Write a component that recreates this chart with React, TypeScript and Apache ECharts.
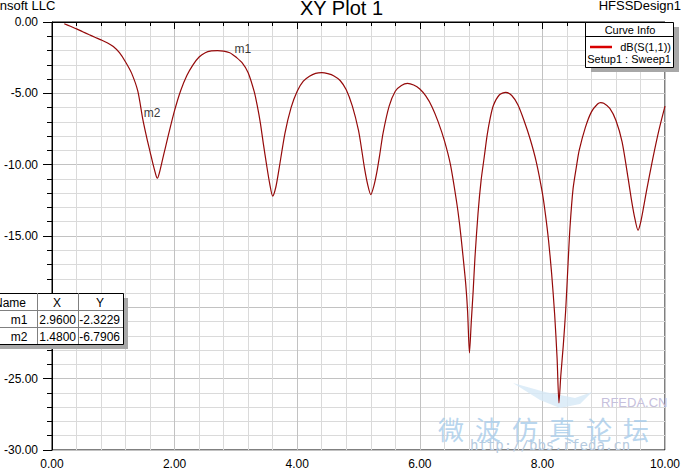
import React, { useEffect, useRef } from "react";
import * as echarts from "echarts";

// ---- Data ----
const freqGHz = [
  0.2, 0.3, 0.4, 0.5, 0.6, 0.7, 0.8, 0.9, 1.0, 1.1, 1.2, 1.3, 1.4, 1.48, 1.55, 1.6, 1.65, 1.7, 1.72, 1.75,
  1.8, 1.85, 1.9, 2.0, 2.1, 2.2, 2.3, 2.4, 2.5, 2.6, 2.7, 2.8, 2.9, 2.96, 3.0, 3.1, 3.2, 3.3, 3.35, 3.4, 3.45,
  3.5, 3.55, 3.6, 3.65, 3.7, 3.8, 3.9, 4.0, 4.1, 4.2, 4.3, 4.4, 4.5, 4.6, 4.7, 4.8, 4.9, 5.0, 5.05, 5.1,
  5.15, 5.2, 5.25, 5.3, 5.35, 5.4, 5.5, 5.6, 5.7, 5.8, 5.9, 6.0, 6.1, 6.2, 6.3, 6.4, 6.5, 6.6, 6.65, 6.7,
  6.75, 6.78, 6.81, 6.84, 6.87, 6.9, 6.95, 7.0, 7.05, 7.1, 7.15, 7.2, 7.3, 7.4, 7.5, 7.6, 7.7, 7.8, 7.9, 8.0,
  8.05, 8.1, 8.15, 8.2, 8.24, 8.27, 8.3, 8.34, 8.38, 8.42, 8.45, 8.5, 8.56, 8.6, 8.7, 8.8, 8.9, 8.95, 9.0, 9.1,
  9.2, 9.3, 9.4, 9.45, 9.5, 9.56, 9.6, 9.65, 9.7, 9.8, 9.9, 10.0,
];
const dbS11 = [
  -0.12, -0.3, -0.48, -0.68, -0.88, -1.07, -1.25, -1.45, -1.72, -2.15, -2.8, -3.6, -4.85, -6.7906, -8.2, -9.1, -10.0, -10.8, -10.95, -10.6,
  -9.7, -8.8, -7.9, -6.2, -4.8, -3.75, -3.0, -2.45, -2.15, -2.03, -2.0, -2.04, -2.16, -2.3229, -2.45, -2.85, -3.55, -4.9, -5.9, -7.1, -8.6,
  -10.0, -11.3, -12.2, -11.6, -10.4, -7.8, -6.0, -4.85, -4.15, -3.8, -3.6, -3.55, -3.62, -3.78, -4.1, -4.75, -5.9, -7.6, -8.9, -10.3,
  -11.4, -12.1, -11.5, -10.5, -9.2, -7.8, -5.9, -4.85, -4.45, -4.3, -4.42, -4.7, -5.2, -5.95, -7.0, -8.3, -10.0, -12.6, -14.2, -16.2,
  -18.4, -20.3, -23.2, -21.0, -18.9, -16.5, -13.4, -11.1, -9.5, -7.9, -6.7, -5.85, -5.1, -4.93, -5.15, -5.8, -6.9, -8.2, -9.8, -12.0,
  -13.5, -15.3, -17.6, -20.5, -23.6, -26.7, -24.8, -22.7, -20.2, -16.8, -14.4, -11.7, -10.0, -9.0, -7.4, -6.3, -5.75, -5.65, -5.7, -6.05,
  -6.9, -8.4, -11.0, -12.4, -13.6, -14.6, -14.1, -13.0, -11.8, -9.6, -7.6, -5.9,
];
const markerNames = ["m1", "m2"];
const markerX = [2.96, 1.48];
const markerY = [-2.3229, -6.7906];
const seriesName = "dB(S(1,1))";
const sweepName = "Setup1 : Sweep1";
const watermarkChars = ["微", "波", "仿", "真", "论", "坛"];

const FONT = "Arial, 'Liberation Sans', sans-serif";

export default function App() {
  const ref = useRef<HTMLDivElement>(null);
  useEffect(() => {
    if (!ref.current) return;
    const chart = echarts.init(ref.current, null, { renderer: "svg" });
    const curve = freqGHz.map((f, i) => [f, dbS11[i]]);
    const markers = markerX.map((x, i) => ({ value: [x, markerY[i]], name: markerNames[i] }));

    // marker table
    const tL = -25, tT = 293, rowH = 17, cols = [37, 78], tR = 123;
    const tB = tT + rowH * 3;
    const tableEls: any[] = [
      { type: "rect", z: 100, shape: { x: tL + 5, y: tT + 5, width: tR - tL, height: tB - tT }, style: { fill: "#a8a8a8" } },
      { type: "rect", z: 101, shape: { x: tL + 0.5, y: tT + 0.5, width: tR - tL, height: tB - tT }, style: { fill: "#fff", stroke: "#000", lineWidth: 1 } },
    ];
    for (let r = 1; r < 3; r++) {
      tableEls.push({ type: "line", z: 102, shape: { x1: tL, y1: tT + rowH * r + 0.5, x2: tR, y2: tT + rowH * r + 0.5 }, style: { stroke: "#808080", lineWidth: 1 } });
    }
    cols.forEach((c) => {
      tableEls.push({ type: "line", z: 102, shape: { x1: c + 0.5, y1: tT, x2: c + 0.5, y2: tB }, style: { stroke: "#808080", lineWidth: 1 } });
    });
    const tText = (text: string, x: number, y: number, align: string) => ({
      type: "text", z: 103, x, y,
      style: { text, fill: "#000", font: `12px ${FONT}`, textAlign: align, textVerticalAlign: "middle" },
    });
    tableEls.push(tText("Name", 26, tT + rowH / 2 + 1, "right"));
    tableEls.push(tText("X", 57, tT + rowH / 2 + 1, "center"));
    tableEls.push(tText("Y", 100, tT + rowH / 2 + 1, "center"));
    markerNames.forEach((n, i) => {
      const y = tT + rowH * (i + 1) + rowH / 2 + 1;
      tableEls.push(tText(n, 19, y, "center"));
      tableEls.push(tText(markerX[i].toFixed(4), 76, y, "right"));
      tableEls.push(tText(markerY[i].toFixed(4), 120, y, "right"));
    });

    // legend box
    const lL = 585, lT = 22, lW = 88, lH = 45;
    const legendEls: any[] = [
      { type: "rect", z: 100, shape: { x: lL + 6, y: lT + 5, width: lW, height: lH }, style: { fill: "#a8a8a8" } },
      { type: "rect", z: 101, shape: { x: lL + 0.5, y: lT + 0.5, width: lW, height: lH }, style: { fill: "#fff", stroke: "#000", lineWidth: 1 } },
      { type: "line", z: 102, shape: { x1: lL, y1: lT + 14.5, x2: lL + lW, y2: lT + 14.5 }, style: { stroke: "#000", lineWidth: 1 } },
      { type: "text", z: 103, x: lL + lW / 2 + 1, y: lT + 8, style: { text: "Curve Info", fill: "#000", font: `11px ${FONT}`, textAlign: "center", textVerticalAlign: "middle" } },
      { type: "line", z: 103, shape: { x1: lL + 5, y1: lT + 25, x2: lL + 27, y2: lT + 25 }, style: { stroke: "#d80000", lineWidth: 2.5 } },
      { type: "text", z: 103, x: lL + lW - 2, y: lT + 25, style: { text: seriesName, fill: "#000", font: `11px ${FONT}`, textAlign: "right", textVerticalAlign: "middle" } },
      { type: "text", z: 103, x: lL + lW - 2, y: lT + 37, style: { text: sweepName, fill: "#000", font: `11px ${FONT}`, textAlign: "right", textVerticalAlign: "middle" } },
    ];

    // watermark
    const wmEls: any[] = [
      { type: "polygon", z: 1, shape: { points: [[513, 383], [545, 392], [575, 398], [592, 392], [580, 404], [560, 408], [540, 400]] }, style: { fill: "#d6e8f6", opacity: 0.8 } },
      { type: "text", z: 1, x: 601, y: 402, style: { text: "RFEDA.CN", fill: "#c6c0dc", font: `13px ${FONT}`, textVerticalAlign: "middle" } },
      { type: "text", z: 1, x: 470, y: 445, style: { text: "http://bbs.rfeda.cn", fill: "#b6cbe0", font: `14px 'DejaVu Sans Mono', monospace`, textVerticalAlign: "middle" } },
    ];
    watermarkChars.forEach((c, i) => {
      wmEls.push({ type: "text", z: 1, x: 438 + i * 37, y: 415, style: { text: c, fill: "#a6cbea", font: `26px 'Noto Sans CJK SC'`, textVerticalAlign: "top", opacity: 0.8 } });
    });

    chart.setOption({
      animation: false,
      backgroundColor: "#fff",
      grid: {
        left: 52, right: 18, top: 22, bottom: 22, containLabel: false, outerBoundsMode: "none",
        show: true, borderColor: "#000", borderWidth: 1, backgroundColor: "#fff",
      },
      xAxis: {
        type: "value", min: 0, max: 10, interval: 2,
        name: "Freq [GHz]", nameLocation: "middle", nameGap: 17,
        nameTextStyle: { fontSize: 13, color: "#000", fontFamily: FONT },
        axisLine: { show: true, lineStyle: { color: "#000", width: 1 } },
        axisTick: { show: true, length: 7, lineStyle: { color: "#000" } },
        minorTick: { show: true, splitNumber: 5, length: 4, lineStyle: { color: "#000" } },
        axisLabel: { formatter: (v: number) => v.toFixed(2), fontSize: 12, color: "#000", fontFamily: FONT, margin: 8 },
        splitLine: { show: true, lineStyle: { color: "#c2c2c2", width: 1 } },
        minorSplitLine: { show: true, lineStyle: { color: "#dadada", width: 1 } },
      },
      yAxis: {
        type: "value", min: -30, max: 0, interval: 5,
        name: seriesName, nameLocation: "middle", nameGap: 46,
        nameTextStyle: { fontSize: 13, color: "#000", fontFamily: FONT },
        axisLine: { show: true, lineStyle: { color: "#000", width: 1 } },
        axisTick: { show: true, length: 9, lineStyle: { color: "#000" } },
        minorTick: { show: true, splitNumber: 5, length: 5, lineStyle: { color: "#000" } },
        axisLabel: { formatter: (v: number) => v.toFixed(2), fontSize: 12, color: "#000", fontFamily: FONT, margin: 14 },
        splitLine: { show: true, lineStyle: { color: "#c2c2c2", width: 1 } },
        minorSplitLine: { show: true, lineStyle: { color: "#dadada", width: 1 } },
      },
      series: [
        {
          name: seriesName, type: "line", data: curve, showSymbol: false, smooth: 0.25, z: 3,
          lineStyle: { color: "#950a0a", width: 1.2 },
        },
        {
          type: "scatter", data: markers, symbolSize: 0.1, z: 4,
          itemStyle: { color: "transparent" },
          label: {
            show: true, formatter: (p: any) => p.name, position: "right", distance: 1, offset: [0, -6],
            fontSize: 12, color: "#000", fontFamily: FONT,
          },
        },
      ],
      graphic: [
        ...wmEls,
        { type: "text", z: 50, x: 341.5, y: -2, style: { text: "XY Plot 1", fill: "#000", font: `20px ${FONT}`, textAlign: "center", textVerticalAlign: "top" } },
        { type: "text", z: 50, x: -9, y: -1, style: { text: "Ansoft LLC", fill: "#000", font: `13px ${FONT}`, textAlign: "left", textVerticalAlign: "top" } },
        { type: "text", z: 50, x: 681, y: -1, style: { text: "HFSSDesign1", fill: "#000", font: `13px ${FONT}`, textAlign: "right", textVerticalAlign: "top" } },
        ...legendEls,
        ...tableEls,
      ],
    });
    return () => chart.dispose();
  }, []);
  return <div ref={ref} style={{ position: "fixed", left: 0, top: 0, width: 683, height: 472 }} />;
}
